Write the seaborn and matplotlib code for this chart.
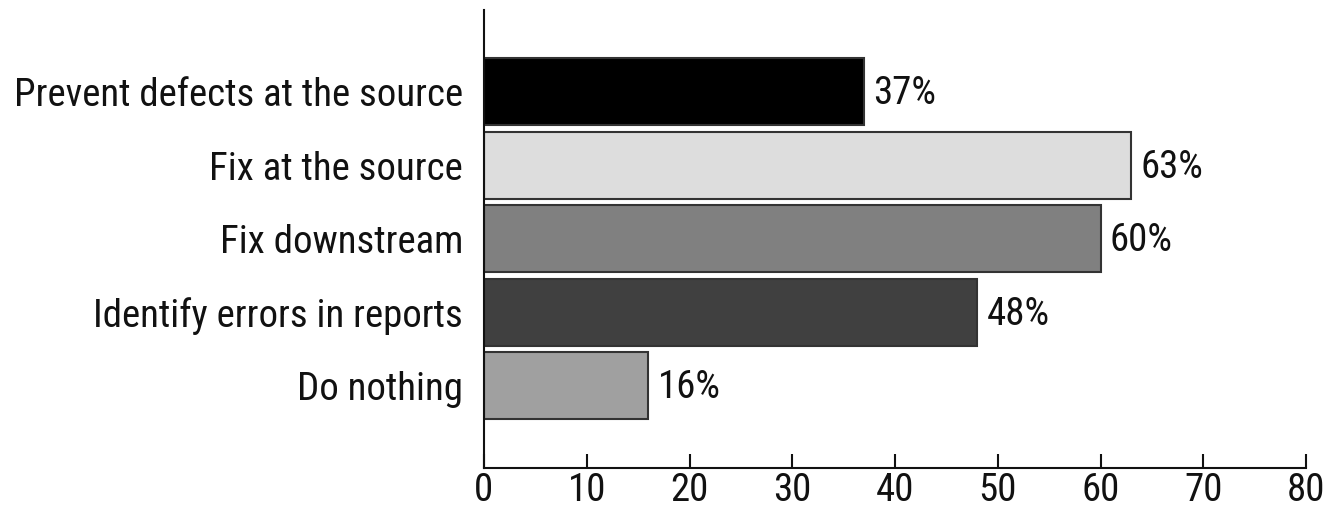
import matplotlib
matplotlib.use("Agg")
import matplotlib.pyplot as plt
import seaborn as sns
import pandas as pd
from matplotlib import font_manager

categories = ["Prevent defects at the source", "Fix at the source", "Fix downstream",
              "Identify errors in reports", "Do nothing"]
values = [37, 63, 60, 48, 16]
bar_colors = ["#000000", "#dddddd", "#808080", "#404040", "#a0a0a0"]
xticks = [0, 10, 20, 30, 40, 50, 60, 70, 80]

sns.set_theme(style="white")
names = {f.name for f in font_manager.fontManager.ttflist}
fam = "Liberation Sans"
for cand in ["Roboto Condensed", "Archivo Narrow", "PT Sans Narrow", "Liberation Sans Narrow"]:
    if cand in names:
        fam = cand
        break
plt.rcParams["font.family"] = [fam, "DejaVu Sans"]
FS = 28

df = pd.DataFrame({"cat": categories, "val": values})

fig = plt.figure(figsize=(13.27, 5.09), dpi=100)
ax = fig.add_axes([484/1327, (509-468)/509, (1306-484)/1327, (468-10)/509])
sns.barplot(data=df, x="val", y="cat", hue="cat", palette=bar_colors, legend=False,
            width=0.91, edgecolor="#333333", linewidth=1.5, ax=ax, orient="h")

for i, v in enumerate(values):
    ax.text(v + 0.9, i + 0.03, f"{v}%", va="center", ha="left", fontsize=FS, color="#111111")

ax.set_xlim(0, 80)
ax.set_ylim(5.12, -1.11)
ax.set_xticks(xticks)
ax.set_xticklabels([str(t) for t in xticks], fontsize=FS)
ax.tick_params(axis="x", direction="in", length=10, width=1.5, color="#111111", pad=3, bottom=True)
ax.tick_params(axis="y", length=0, pad=15, labelsize=FS)
for lbl in ax.get_yticklabels():
    lbl.set_color("#111111")
for lbl in ax.get_xticklabels():
    lbl.set_color("#111111")
ax.set_xlabel("")
ax.set_ylabel("")
ax.spines["top"].set_visible(False)
ax.spines["right"].set_visible(False)
for s in ["left", "bottom"]:
    ax.spines[s].set_color("#111111")
    ax.spines[s].set_linewidth(1.5)

fig.savefig("out.png", dpi=100)
